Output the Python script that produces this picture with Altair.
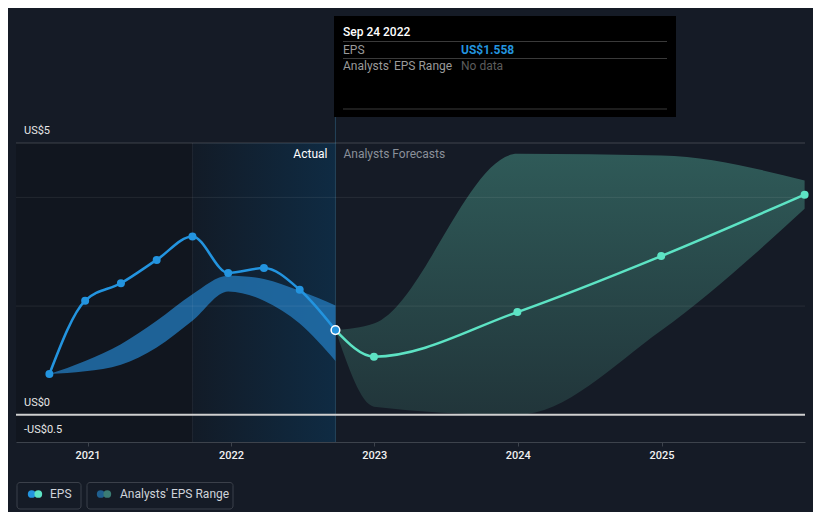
import altair as alt
import pandas as pd

# ---------------- data ----------------
eps_dates = ["2020-09-26", "2020-12-26", "2021-03-27", "2021-06-26", "2021-09-25",
             "2021-12-25", "2022-03-26", "2022-06-25", "2022-09-24"]
eps_values = [0.75, 2.10, 2.42, 2.85, 3.28, 2.61, 2.70, 2.30, 1.558]
past_range_high = [0.75, 0.99, 1.30, 1.73, 2.22, 2.56, 2.50, 2.28, 2.01]
past_range_low = [0.75, 0.80, 0.92, 1.24, 1.73, 2.27, 2.10, 1.68, 0.99]

fc_dates = ["2022-09-24", "2022-12-31", "2023-12-31", "2024-12-31", "2025-12-31"]
fc_values = [1.558, 1.07, 1.89, 2.92, 4.05]
fc_high = [1.558, 1.68, 4.80, 4.77, 4.31]
fc_low = [1.558, 0.15, 0.0, 1.55, 3.79]

tick_years = [2021, 2022, 2023, 2024, 2025]
y_label_values = [5, 0, -0.5]
y_label_texts = ["US$5", "US$0", "-US$0.5"]
grid_values = [4, 2]
top_value = [5]
zero_value = [0]
x_start = (2020, 7, 3)
x_end = (2026, 1, 1)
x_start_str = "2020-07-03"
y_domain = [-0.5, 5]
past_end = "2021-09-25"
last_actual = "2022-09-24"

FONT = "Roboto"
BG = "#151b26"

eps_df = pd.DataFrame({"date": eps_dates, "eps": eps_values,
                       "hi": past_range_high, "lo": past_range_low})
fc_df = pd.DataFrame({"date": fc_dates, "eps": fc_values, "hi": fc_high, "lo": fc_low})
one = pd.DataFrame({"k": [0]})

x_scale = alt.Scale(domain=[alt.DateTime(year=x_start[0], month=x_start[1], date=x_start[2]),
                            alt.DateTime(year=x_end[0], month=x_end[1], date=x_end[2])])
y_scale = alt.Scale(domain=y_domain, nice=False, zero=False)

x_axis = alt.Axis(values=[alt.DateTime(year=y, month=1, date=1) for y in tick_years],
                  format="%Y", labelColor="#f0f0f0", labelFontSize=11, labelFont=FONT,
                  labelFontWeight=500, tickColor="#3d434c", tickSize=4,
                  domainColor="#3d434c", grid=False, title=None, labelPadding=3,
                  labelFlush=False)


def X(field):
    return alt.X(field, type="temporal", scale=x_scale, axis=x_axis)


def Y(field):
    return alt.Y(field, type="quantitative", scale=y_scale, axis=None)


layers = []

# shaded regions
past_region = alt.Chart(pd.DataFrame({"start": [x_start_str], "end": [past_end]})).mark_rect(
    color="#11161f").encode(
    x=X("start"), x2=alt.X2("end"), y=alt.value(0), y2=alt.value(299))
layers.append(past_region)

hl = alt.Gradient(gradient="linear",
                  stops=[alt.GradientStop(color="#121b27", offset=0),
                         alt.GradientStop(color="#0f2b43", offset=1)],
                  x1=0, x2=1, y1=0, y2=0)
hl_region = alt.Chart(pd.DataFrame({"start": [past_end], "end": [last_actual]})).mark_rect(color=hl).encode(
    x=X("start"), x2=alt.X2("end"), y=alt.value(0), y2=alt.value(299))
layers.append(hl_region)

# vertical guide line at the last actual
layers.append(alt.Chart(pd.DataFrame({"d": [last_actual]})).mark_rule(color="#24435a", strokeWidth=1).encode(
    x=X("d"), y=alt.value(-26), y2=alt.value(299)))

# bands
past_band = alt.Chart(eps_df).mark_area(interpolate="monotone", color="#2275b5", opacity=0.8).encode(
    x=X("date"), y=Y("hi"), y2=alt.Y2("lo"))
layers.append(past_band)

fc_grad = alt.Gradient(gradient="linear",
                       stops=[alt.GradientStop(color="#2f5a58", offset=0),
                              alt.GradientStop(color="#21353a", offset=1)],
                       x1=0, x2=0, y1=0, y2=1)
fc_band = alt.Chart(fc_df).mark_area(interpolate="monotone", color=fc_grad).encode(
    x=X("date"), y=Y("hi"), y2=alt.Y2("lo"))
layers.append(fc_band)

# grid lines (drawn over the bands, faint)
layers.append(alt.Chart(pd.DataFrame({"v": grid_values})).mark_rule(color="#ffffff", opacity=0.08,
                                                                    strokeWidth=1).encode(
    y=Y("v")))
layers.append(alt.Chart(pd.DataFrame({"v": top_value})).mark_rule(color="#ffffff", opacity=0.18,
                                                                  strokeWidth=1).encode(
    y=Y("v")))
layers.append(alt.Chart(pd.DataFrame({"d": [past_end]})).mark_rule(color="#ffffff", opacity=0.06,
                                                                   strokeWidth=1).encode(
    x=X("d"), y=alt.value(0), y2=alt.value(299)))

# zero line
layers.append(alt.Chart(pd.DataFrame({"v": zero_value})).mark_rule(color="#cfcfcf", strokeWidth=2).encode(
    y=Y("v")))

# lines
layers.append(alt.Chart(eps_df).mark_line(interpolate="monotone", color="#2394df", strokeWidth=2.5).encode(
    x=X("date"), y=Y("eps")))
layers.append(alt.Chart(fc_df).mark_line(interpolate="monotone", color="#5de3c4", strokeWidth=2.5).encode(
    x=X("date"), y=Y("eps")))

# points
layers.append(alt.Chart(eps_df.iloc[:-1]).mark_circle(color="#2394df", size=64, opacity=1).encode(
    x=X("date"), y=Y("eps")))
layers.append(alt.Chart(fc_df.iloc[1:]).mark_circle(color="#5de3c4", size=64, opacity=1).encode(
    x=X("date"), y=Y("eps")))
layers.append(alt.Chart(eps_df.iloc[-1:]).mark_point(filled=True, fill="#2394df", stroke="#ffffff",
                                                      strokeWidth=1.5, size=75, opacity=1).encode(
    x=X("date"), y=Y("eps")))

# y labels
ylab_df = pd.DataFrame({"v": y_label_values, "t": y_label_texts})
layers.append(alt.Chart(ylab_df).mark_text(align="left", baseline="middle", dy=-12, fontSize=11,
                                           font=FONT, color="#e6e6e6").encode(
    x=alt.value(8), y=Y("v"), text="t:N"))

# Actual / Forecast labels
lab_df = pd.DataFrame({"d": [last_actual]})
layers.append(alt.Chart(lab_df).mark_text(text="Actual", align="right", baseline="middle", dx=-8,
                                          fontSize=12, font=FONT, color="#ffffff").encode(
    x=X("d"), y=alt.value(11)))
layers.append(alt.Chart(lab_df).mark_text(text="Analysts Forecasts", align="left", baseline="middle", dx=8,
                                          fontSize=12, font=FONT, color="#8a9099").encode(
    x=X("d"), y=alt.value(11)))

# tooltip panel
layers.append(alt.Chart(one).mark_rect(color="#000000").encode(
    x=alt.value(318), x2=alt.value(660), y=alt.value(-127), y2=alt.value(-26)))
for yy in [-101.5, -84.5, -34]:
    layers.append(alt.Chart(one).mark_rule(color="#3a3a3a", strokeWidth=1).encode(
        x=alt.value(327), x2=alt.value(651), y=alt.value(yy)))
layers.append(alt.Chart(one).mark_text(text="Sep 24 2022", align="left", baseline="middle", fontSize=12,
                                       fontWeight=500, font=FONT, color="#ffffff").encode(
    x=alt.value(327), y=alt.value(-111)))
layers.append(alt.Chart(one).mark_text(text="EPS", align="left", baseline="middle", fontSize=12,
                                       font=FONT, color="#9a9a9a").encode(
    x=alt.value(327), y=alt.value(-93.5)))
layers.append(alt.Chart(one).mark_text(text="US$1.558", align="left", baseline="middle", fontSize=12,
                                       fontWeight="bold", font=FONT, color="#2394df").encode(
    x=alt.value(445), y=alt.value(-93.5)))
layers.append(alt.Chart(one).mark_text(text="Analysts' EPS Range", align="left", baseline="middle",
                                       fontSize=12, font=FONT, color="#9a9a9a").encode(
    x=alt.value(327), y=alt.value(-77)))
layers.append(alt.Chart(one).mark_text(text="No data", align="left", baseline="middle", fontSize=12,
                                       font=FONT, color="#5c5c5c").encode(
    x=alt.value(445), y=alt.value(-77)))

# legend
for (x1, x2) in [(1, 65), (71, 217)]:
    layers.append(alt.Chart(one).mark_rect(fillOpacity=0, stroke="#3b404a", strokeWidth=1,
                                           cornerRadius=3).encode(
        x=alt.value(x1), x2=alt.value(x2), y=alt.value(339.5), y2=alt.value(366)))
for (cx, col) in [(15.7, "#2394df"), (22.3, "#5de3c4"), (84.7, "#1f5f8f"), (91.3, "#3b7c74")]:
    layers.append(alt.Chart(one).mark_circle(color=col, size=60, opacity=1).encode(
        x=alt.value(cx), y=alt.value(351)))
layers.append(alt.Chart(one).mark_text(text="EPS", align="left", baseline="middle", fontSize=12,
                                       font=FONT, color="#cfd3da").encode(
    x=alt.value(34), y=alt.value(351)))
layers.append(alt.Chart(one).mark_text(text="Analysts' EPS Range", align="left", baseline="middle",
                                       fontSize=12, font=FONT, color="#cfd3da").encode(
    x=alt.value(104), y=alt.value(351)))

chart = alt.layer(*layers).properties(
    width=789, height=299,
    autosize=alt.AutoSizeParams(type="none"),
    padding={"left": 8, "top": 135, "right": 8, "bottom": 70},
    background=BG,
).configure_view(strokeWidth=0)

chart.save("out.html", embed_options={"renderer": "svg", "actions": False})
